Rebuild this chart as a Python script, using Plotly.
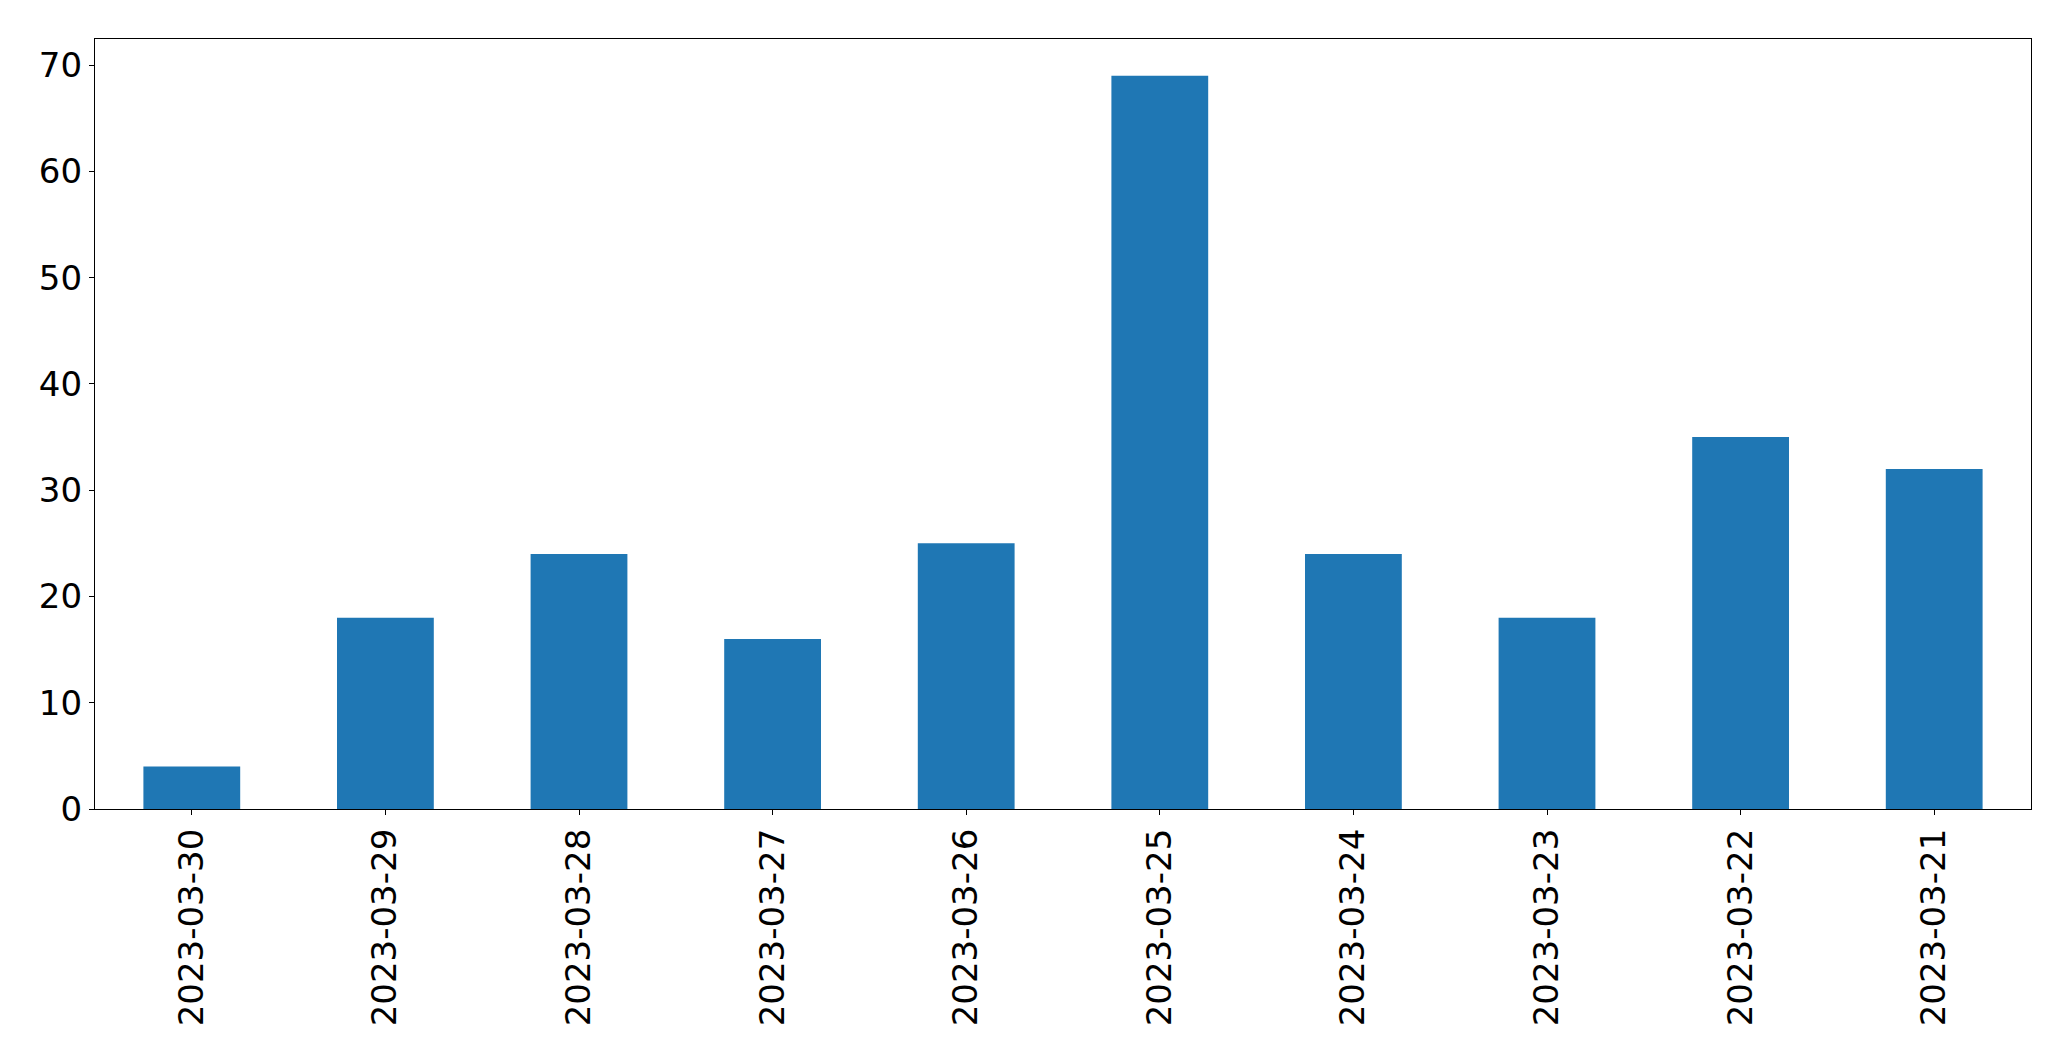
import plotly.graph_objects as go

dates = ["2023-03-30", "2023-03-29", "2023-03-28", "2023-03-27", "2023-03-26",
         "2023-03-25", "2023-03-24", "2023-03-23", "2023-03-22", "2023-03-21"]
counts = [4, 18, 24, 16, 25, 69, 24, 18, 35, 32]
y_ticks = [0, 10, 20, 30, 40, 50, 60, 70]

fig = go.Figure(go.Bar(x=dates, y=counts, width=0.5, marker_color="#1f77b4",
                       marker_line_width=0))

axis_common = dict(showline=True, linecolor="black", linewidth=1.3, mirror=True,
                   ticks="outside", ticklen=5, tickwidth=1.3, tickcolor="black",
                   showgrid=False, zeroline=False,
                   tickfont=dict(family="DejaVu Sans", size=34, color="black"))

fig.update_layout(
    width=2071, height=1061,
    margin=dict(l=95, r=40, t=39, b=252),
    paper_bgcolor="white", plot_bgcolor="white",
    showlegend=False,
    xaxis=dict(type="category", range=[-0.5, len(dates) - 0.5], tickangle=-90,
               **axis_common),
    yaxis=dict(range=[0, max(counts) * 1.05], tickvals=y_ticks, **axis_common),
)

fig.write_html("out.html")
